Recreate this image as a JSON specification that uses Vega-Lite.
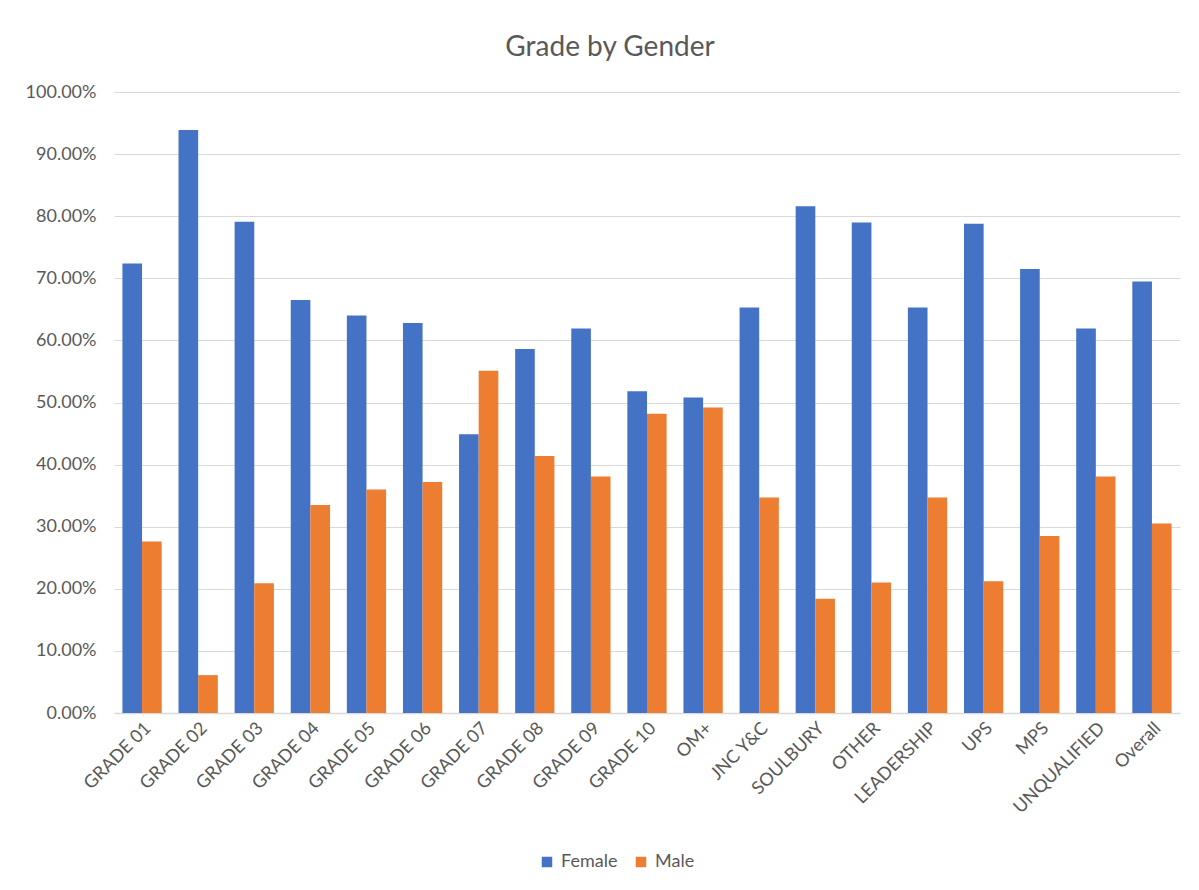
{
  "$schema": "https://vega.github.io/schema/vega-lite/v6.json",
  "width": 1066,
  "height": 621,
  "autosize": {"type": "none"},
  "padding": {"left": 114, "top": 92, "right": 19, "bottom": 177},
  "background": "white",
  "title": {
    "text": "Grade by Gender",
    "font": "Lato",
    "fontSize": 28,
    "fontWeight": "normal",
    "color": "#595959",
    "anchor": "middle",
    "offset": 21,
    "dx": -37
  },
  "data": {
    "values": [
      {"grade": "GRADE 01", "gender": "Female", "share": 0.724},
      {"grade": "GRADE 01", "gender": "Male", "share": 0.276},
      {"grade": "GRADE 02", "gender": "Female", "share": 0.939},
      {"grade": "GRADE 02", "gender": "Male", "share": 0.061},
      {"grade": "GRADE 03", "gender": "Female", "share": 0.791},
      {"grade": "GRADE 03", "gender": "Male", "share": 0.209},
      {"grade": "GRADE 04", "gender": "Female", "share": 0.665},
      {"grade": "GRADE 04", "gender": "Male", "share": 0.335},
      {"grade": "GRADE 05", "gender": "Female", "share": 0.640},
      {"grade": "GRADE 05", "gender": "Male", "share": 0.360},
      {"grade": "GRADE 06", "gender": "Female", "share": 0.628},
      {"grade": "GRADE 06", "gender": "Male", "share": 0.372},
      {"grade": "GRADE 07", "gender": "Female", "share": 0.449},
      {"grade": "GRADE 07", "gender": "Male", "share": 0.551},
      {"grade": "GRADE 08", "gender": "Female", "share": 0.586},
      {"grade": "GRADE 08", "gender": "Male", "share": 0.414},
      {"grade": "GRADE 09", "gender": "Female", "share": 0.619},
      {"grade": "GRADE 09", "gender": "Male", "share": 0.381},
      {"grade": "GRADE 10", "gender": "Female", "share": 0.518},
      {"grade": "GRADE 10", "gender": "Male", "share": 0.482},
      {"grade": "OM+", "gender": "Female", "share": 0.508},
      {"grade": "OM+", "gender": "Male", "share": 0.492},
      {"grade": "JNC Y&C", "gender": "Female", "share": 0.653},
      {"grade": "JNC Y&C", "gender": "Male", "share": 0.347},
      {"grade": "SOULBURY", "gender": "Female", "share": 0.816},
      {"grade": "SOULBURY", "gender": "Male", "share": 0.184},
      {"grade": "OTHER", "gender": "Female", "share": 0.790},
      {"grade": "OTHER", "gender": "Male", "share": 0.210},
      {"grade": "LEADERSHIP", "gender": "Female", "share": 0.653},
      {"grade": "LEADERSHIP", "gender": "Male", "share": 0.347},
      {"grade": "UPS", "gender": "Female", "share": 0.788},
      {"grade": "UPS", "gender": "Male", "share": 0.212},
      {"grade": "MPS", "gender": "Female", "share": 0.715},
      {"grade": "MPS", "gender": "Male", "share": 0.285},
      {"grade": "UNQUALIFIED", "gender": "Female", "share": 0.619},
      {"grade": "UNQUALIFIED", "gender": "Male", "share": 0.381},
      {"grade": "Overall", "gender": "Female", "share": 0.695},
      {"grade": "Overall", "gender": "Male", "share": 0.305}
    ]
  },
  "mark": {"type": "bar"},
  "encoding": {
    "x": {
      "field": "grade",
      "type": "nominal",
      "sort": null,
      "title": null,
      "scale": {"paddingInner": 0.3, "paddingOuter": 0.15},
      "axis": {
        "labelAngle": -45,
        "labelFont": "Lato",
        "labelFontSize": 18,
        "labelColor": "#595959",
        "labelPadding": 6,
        "ticks": false,
        "domainColor": "#d9d9d9",
        "domainWidth": 1.5
      }
    },
    "xOffset": {"field": "gender", "type": "nominal", "sort": ["Female", "Male"], "scale": {"paddingInner": 0, "paddingOuter": 0}},
    "y": {
      "field": "share",
      "type": "quantitative",
      "title": null,
      "scale": {"domain": [0, 1], "nice": false},
      "axis": {
        "values": [0, 0.1, 0.2, 0.3, 0.4, 0.5, 0.6, 0.7, 0.8, 0.9, 1.0],
        "format": ".2%",
        "labelFont": "Lato",
        "labelFontSize": 18,
        "labelColor": "#595959",
        "labelPadding": 18,
        "ticks": false,
        "domain": false,
        "gridColor": "#d9d9d9",
        "gridWidth": 1.2
      }
    },
    "color": {
      "field": "gender",
      "type": "nominal",
      "title": null,
      "scale": {"domain": ["Female", "Male"], "range": ["#4472C4", "#ED7D31"]},
      "legend": {
        "orient": "none",
        "direction": "horizontal",
        "legendX": 424,
        "legendY": 761,
        "symbolType": "square",
        "symbolSize": 110,
        "symbolStrokeWidth": 0,
        "labelFont": "Lato",
        "labelFontSize": 18,
        "labelColor": "#595959",
        "columnPadding": 14,
        "labelOffset": 5
      }
    }
  },
  "config": {
    "view": {"stroke": null}
  }
}
